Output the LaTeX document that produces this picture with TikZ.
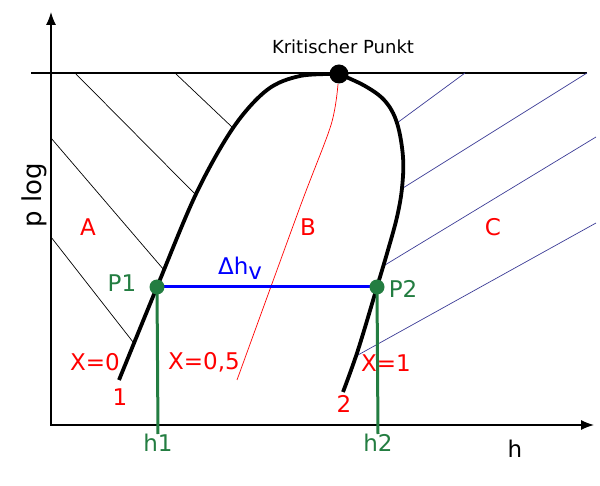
\documentclass[tikz,border=0pt]{standalone}
\usepackage{fontspec}
\setmainfont{DejaVu Sans}
\usetikzlibrary{arrows.meta}
\definecolor{dgreen}{RGB}{35,125,65}
\definecolor{hatch}{RGB}{60,60,150}

\begin{document}
\begin{tikzpicture}[x=1pt,y=-1pt]
\useasboundingbox (0,0) rectangle (600,486);
\tikzset{lab/.style={font=\fontsize{23}{26}\selectfont},
         dot/.style={circle,inner sep=0pt,minimum size=15pt},
         hatchline/.style={line width=0.7pt}}

% axes
\coordinate (o) at (51,425);
\coordinate (ytop) at (51,12);
\coordinate (xend) at (594,425);
\draw[line width=1.3pt,{Latex[length=13pt,width=10pt]}-{Latex[length=13pt,width=10pt]}] (ytop) -- (o) -- (xend);
\coordinate (l0) at (31,73);
\coordinate (l1) at (587,73);
\draw[line width=2pt] (l0) -- (l1);

% hatching
\draw[hatchline] (75,73) -- (196,195);
\draw[hatchline] (175,73) -- (233,128);
\draw[hatchline] (51,138) -- (164,270);
\draw[hatchline] (51,237) -- (133,342);
\draw[hatchline,hatch] (465,73) -- (397,123);
\draw[hatchline,hatch] (587,73) -- (403,188);
\draw[hatchline,hatch] (596,137) -- (385,265);
\draw[hatchline,hatch] (596,223) -- (358,355);

% X=0,5
\draw[red,line width=0.7pt] plot[smooth,tension=0.5] coordinates {(338,84) (331,125) (300,207) (237,380)};

% Siede- und Taulinie
\draw[line width=3.8pt] plot[smooth,tension=0.55] coordinates {(119,380) (157,287) (196,194) (233,128) (267,90) (300,76) (339,74)};
\draw[line width=3.8pt] plot[smooth,tension=0.6] coordinates {(339,74) (365,86) (385,101) (397,123) (403,157) (402,188) (397,217) (388,250) (377,287) (358,350) (343,392)};

\coordinate (P1) at (157,287);
\coordinate (P2) at (377,287);
\node[lab,text=dgreen,anchor=north,inner sep=0pt] (h1) at (158,434) {h1};
\node[lab,text=dgreen,anchor=north,inner sep=0pt] (h2) at (378,434) {h2};
\draw[dgreen,line width=3pt] (P1) -- (h1.north);
\draw[dgreen,line width=3pt] (P2) -- (h2.north);
\draw[blue,line width=3pt] (P1) -- (P2);
\node[dot,fill=dgreen] (p1) at (P1) {};
\node[dot,fill=dgreen] (p2) at (P2) {};
\node[circle,fill=black,inner sep=0pt,minimum size=19pt] (kp) at (339,74) {};

% Beschriftung
\node[font=\fontsize{18}{21}\selectfont] (kptext) at (343,47) {Kritischer Punkt};
\node[font=\fontsize{26}{28}\selectfont,rotate=90] (plog) at (34,195) {p log};
\node[lab] (hlab) at (515,449) {h};
\node[lab,text=dgreen] (p1lab) at (122,283) {P1};
\node[lab,text=dgreen] (p2lab) at (403,289) {P2};
\node[lab,text=blue] (dh) at (240,268) {Δh\raisebox{-5pt}{v}};
\node[lab,text=red] (a) at (88,227) {A};
\node[lab,text=red] (b) at (308,227) {B};
\node[lab,text=red] (c) at (493,227) {C};
\node[lab,text=red] (x0) at (95,362) {X=0};
\node[lab,text=red] (x05) at (204,362) {X=0,5};
\node[lab,text=red] (x1) at (386,363) {X=1};
\node[lab,text=red] (n1) at (120,397) {1};
\node[lab,text=red] (n2) at (344,404) {2};
\end{tikzpicture}
\end{document}
